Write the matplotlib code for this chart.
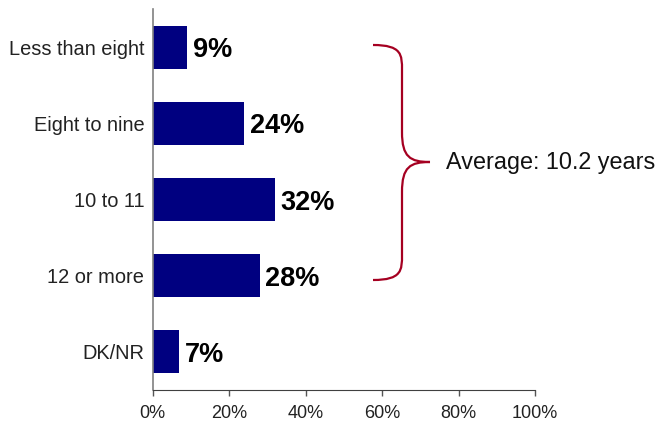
import matplotlib
matplotlib.use("Agg")
import matplotlib.pyplot as plt
from matplotlib.path import Path
from matplotlib.patches import PathPatch

plt.rcParams['font.family'] = ['Liberation Sans', 'DejaVu Sans']

categories = ["Less than eight", "Eight to nine", "10 to 11", "12 or more", "DK/NR"]
values = [9, 24, 32, 28, 7]
xticks = [0, 20, 40, 60, 80, 100]
xtick_labels = ["0%", "20%", "40%", "60%", "80%", "100%"]
brace_label = "Average: 10.2 years"

W, H = 664, 426
fig = plt.figure(figsize=(W / 100, H / 100), dpi=100)
ax = fig.add_axes([152.7 / W, 1 - 390 / H, (535 - 152.7) / W, (390 - 9) / H])

ypos = list(range(len(categories)))
ax.barh(ypos, values, height=0.565, color="#000080")
for y, v in zip(ypos, values):
    ax.text(v + 1.5, y + 0.04, f"{v}%", va="center", ha="left",
            fontsize=19.5, fontweight="bold", color="black")

ax.set_xlim(0, 100)
ax.set_ylim(len(categories) - 0.5, -0.5)
ax.set_yticks(ypos)
ax.set_yticklabels(categories, fontsize=14.4, color="#222222")
ax.tick_params(axis="y", length=0, pad=6)
ax.set_xticks(xticks)
ax.set_xticklabels(xtick_labels, fontsize=13, color="#222222")
ax.tick_params(axis="x", length=4, width=1, color="#555555", pad=7, direction="out")

for s in ("top", "right"):
    ax.spines[s].set_visible(False)
ax.spines["left"].set_color("#808080")
ax.spines["bottom"].set_color("#404040")
ax.spines["left"].set_linewidth(1.2)

# curly brace spanning the middle categories, drawn in figure pixels
def fp(x, y):
    return (x / W, 1 - y / H)

xl, xv, xt = 373, 402, 430
yt, ym, yb = 45, 162, 280
verts = [
    fp(xl, yt),
    fp(xv, yt), fp(xv, yt + 10), fp(xv, yt + 25),
    fp(xv, ym - 30),
    fp(xv, ym - 5), fp(xt - 20, ym), fp(xt, ym),
    fp(xt - 20, ym), fp(xv, ym + 5), fp(xv, ym + 30),
    fp(xv, yb - 25),
    fp(xv, yb - 10), fp(xv, yb), fp(xl, yb),
]
codes = [Path.MOVETO,
         Path.CURVE4, Path.CURVE4, Path.CURVE4,
         Path.LINETO,
         Path.CURVE4, Path.CURVE4, Path.CURVE4,
         Path.CURVE4, Path.CURVE4, Path.CURVE4,
         Path.LINETO,
         Path.CURVE4, Path.CURVE4, Path.CURVE4]
brace = PathPatch(Path(verts, codes), transform=fig.transFigure,
                  facecolor="none", edgecolor="#A50021", linewidth=1.6)
fig.add_artist(brace)

tx, ty = fp(446, ym)
fig.text(tx, ty, brace_label, fontsize=16.8, va="center", ha="left", color="#111111")

fig.savefig("out.png", dpi=100)
